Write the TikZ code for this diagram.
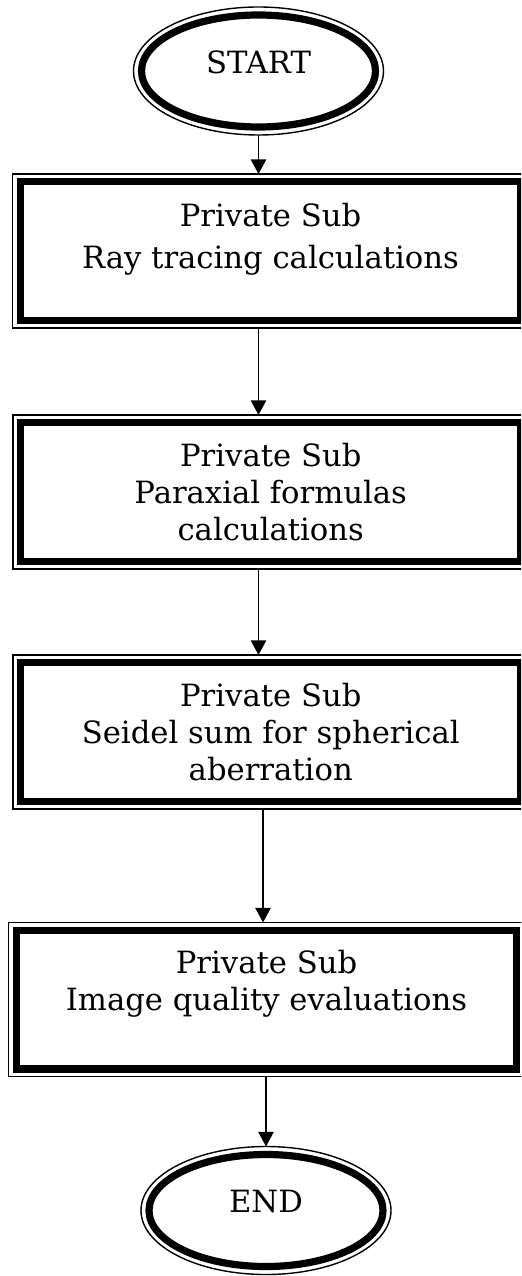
\documentclass[tikz,border=0pt]{standalone}
\usepackage{fontspec}
\setmainfont{DejaVu Serif}
\usetikzlibrary{arrows.meta,shapes.geometric}
\begin{document}
\begin{tikzpicture}[x=0.75pt,y=-0.75pt,
  every node/.style={font=\fontsize{23pt}{27.75pt}\selectfont},
  procbox/.style={draw, rectangle, line width=5.6pt, minimum width=375pt,
    minimum height=103.9pt, inner sep=0pt, outer sep=5.8pt},
  termnode/.style={draw, ellipse, line width=5.4pt, minimum width=175.5pt,
    minimum height=84pt, inner sep=0pt, outer sep=6pt, text depth=13.5pt},
  rim/.style={line width=1.05pt},
  boxtext/.style={anchor=base, inner sep=0pt},
  flow/.style={line width=1.3pt, -{Triangle[width=11.5pt,length=11pt]}}]
\clip (0,0) rectangle (521,1276);

% terminals
\node[termnode] (startnode) at (258.5,71) {START};
\draw[rim] (startnode.center) ellipse [x radius=93.75pt, y radius=48pt];
\node[termnode] (endnode) at (266,1210.5) {END};
\draw[rim] (endnode.center) ellipse [x radius=93.75pt, y radius=48pt];

% subroutine boxes
\node[procbox] (b1) at (270.5,251) {};
\node[procbox] (b2) at (270.75,492) {};
\node[procbox] (b3) at (270.75,732) {};
\node[procbox] (b4) at (266.5,999.5) {};
\foreach \b in {b1,b2,b3,b4}
  \draw[rim] (\b.north west) rectangle (\b.south east);

% box captions
\node[boxtext, font=\fontsize{23pt}{31.3pt}\selectfont] (t1) at (270.5,227)
  {\begin{tabular}[t]{@{}c@{}}Private Sub\\Ray tracing calculations\end{tabular}};
\node[boxtext] (t2) at (270.75,466.7)
  {\begin{tabular}[t]{@{}c@{}}Private Sub\\Paraxial formulas\\calculations\end{tabular}};
\node[boxtext] (t3) at (270.75,706.7)
  {\begin{tabular}[t]{@{}c@{}}Private Sub\\Seidel sum for spherical\\aberration\end{tabular}};
\node[boxtext] (t4) at (266.5,973.3)
  {\begin{tabular}[t]{@{}c@{}}Private Sub\\Image quality evaluations\end{tabular}};

% flow
\coordinate (k3) at ([xshift=-5.8pt]b3.south);
\draw[flow] (startnode.south) -- (b1.north -| startnode.south);
\draw[flow] (b1.south -| startnode.south) -- (b2.north -| startnode.south);
\draw[flow] (b2.south -| startnode.south) -- (b3.north -| startnode.south);
\draw[flow] (k3) -- (k3 |- b4.north);
\draw[flow] (b4.south -| endnode.north) -- (endnode.north);
\end{tikzpicture}
\end{document}
